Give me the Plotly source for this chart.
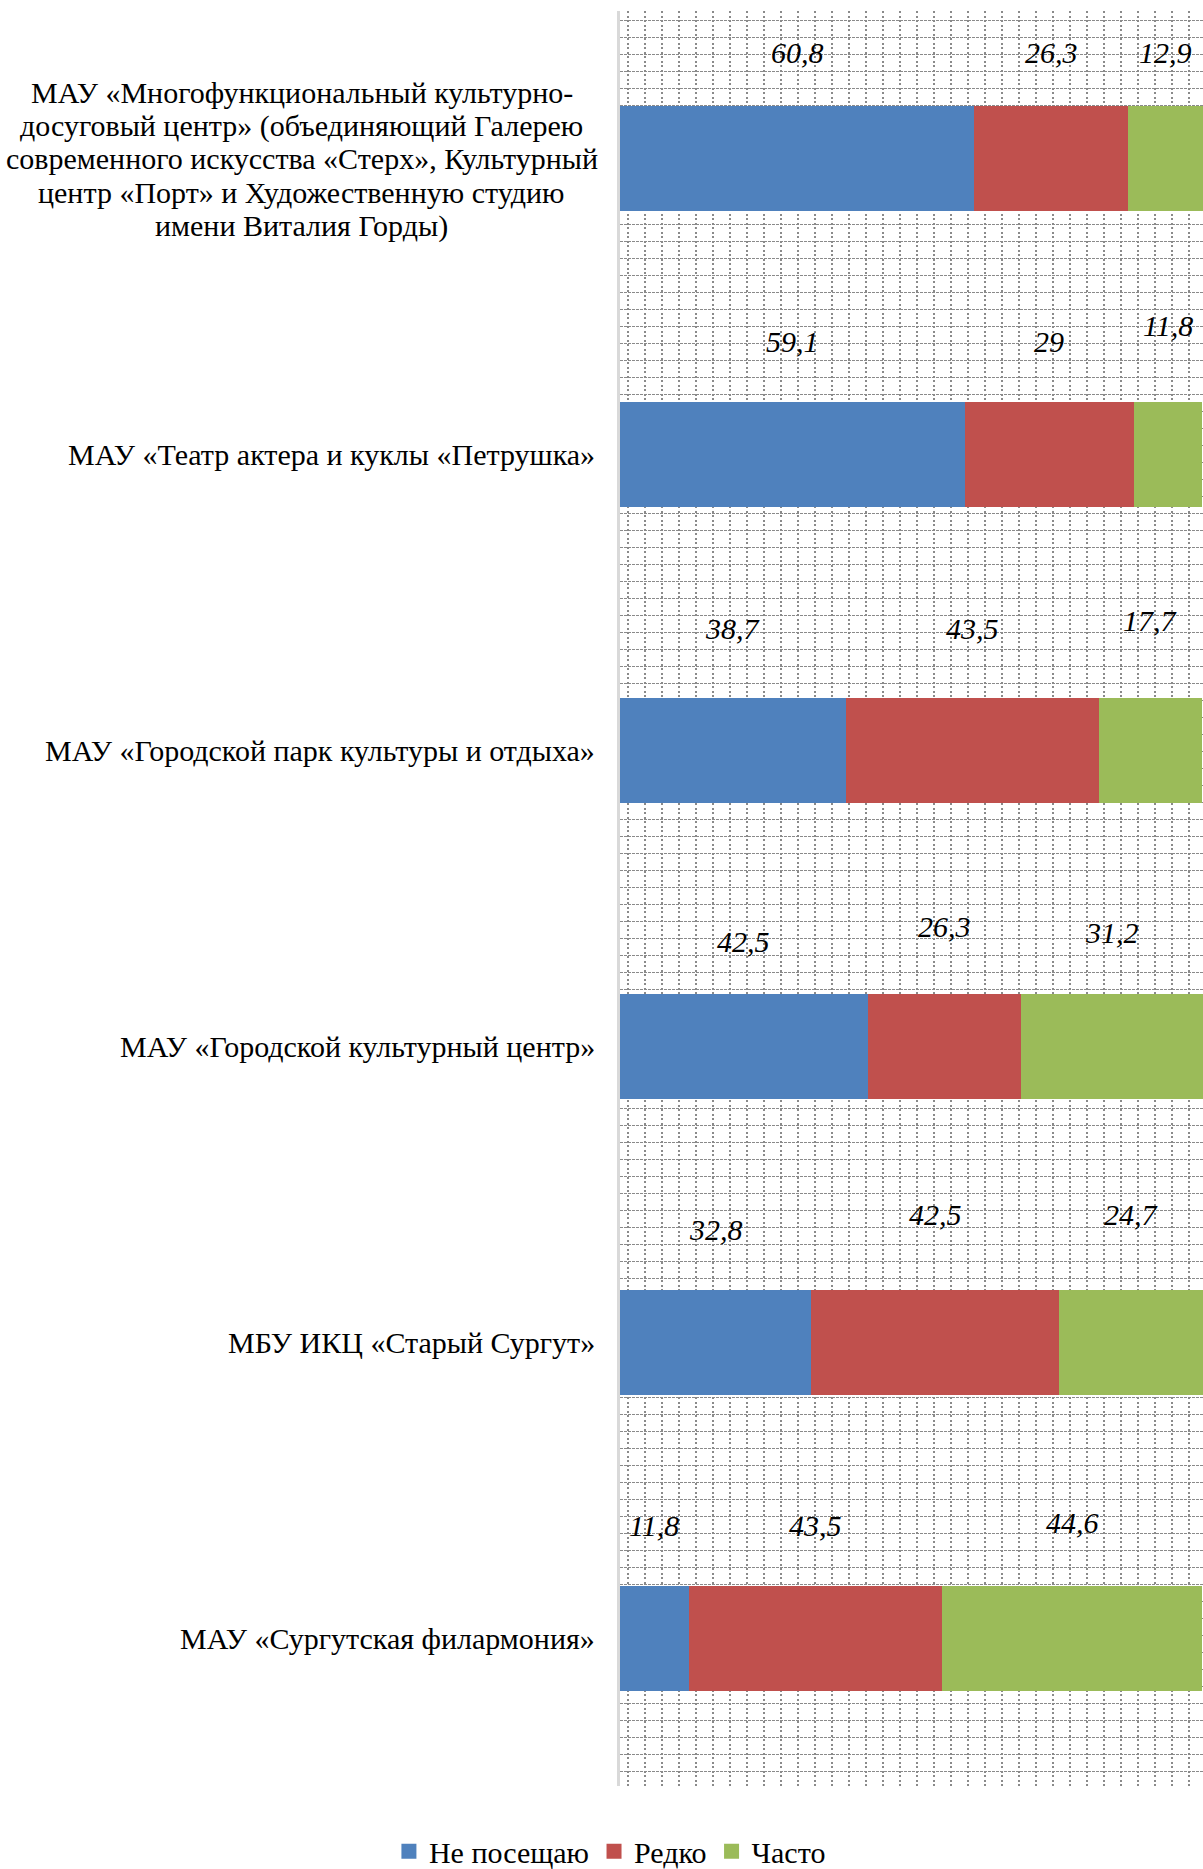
import plotly.graph_objects as go

categories = [
    "МАУ «Многофункциональный культурно-\nдосуговый центр» (объединяющий Галерею\nсовременного искусства «Стерх», Культурный\nцентр «Порт» и Художественную студию\nимени Виталия Горды)",
    "МАУ «Театр актера и куклы «Петрушка»",
    "МАУ «Городской парк культуры и отдыха»",
    "МАУ «Городской культурный центр»",
    "МБУ ИКЦ «Старый Сургут»",
    "МАУ «Сургутская филармония»",
]
series_names = ["Не посещаю", "Редко", "Часто"]
ne_poseshchayu = [60.8, 59.1, 38.7, 42.5, 32.8, 11.8]
redko = [26.3, 29, 43.5, 26.3, 42.5, 43.5]
chasto = [12.9, 11.8, 17.7, 31.2, 24.7, 44.6]

colors = ["#4F81BD", "#C0504D", "#9BBB59"]
# vertical pixel offsets of the value labels above each bar (style)
label_shift = [
    [106, 106, 106],
    [113, 113, 129],
    [122, 122, 130],
    [105, 120, 114],
    [113, 128, 128],
    [113, 113, 116],
]

FONT = "Liberation Serif"
FS = 30
LINE_H = 33.4
series = [ne_poseshchayu, redko, chasto]
ypos = list(range(len(categories)))

fig = go.Figure()
for name, vals, col in zip(series_names, series, colors):
    fig.add_trace(go.Bar(
        x=vals, y=ypos, orientation="h", name=name,
        marker=dict(color=col, line=dict(width=0)),
        width=0.355, hoverinfo="skip", showlegend=False,
    ))
# legend entries with larger square swatches
for name, col in zip(series_names, colors):
    fig.add_trace(go.Scatter(
        x=[None], y=[None], mode="markers", name=name,
        marker=dict(symbol="square", size=15, color=col),
        showlegend=True,
    ))

def fmt(v):
    return f"{v:g}".replace(".", ",")

annotations = []
for i in ypos:
    left = 0.0
    for s, vals in enumerate(series):
        v = vals[i]
        annotations.append(dict(
            x=left + v / 2, y=i, xref="x", yref="y",
            text=f"<i>{fmt(v)}</i>", showarrow=False,
            yshift=label_shift[i][s],
            font=dict(family=FONT, size=FS, color="#000000"),
        ))
        left += v
    lines = categories[i].split("\n")
    k = len(lines)
    for j, line in enumerate(lines):
        if k == 1:
            ax, anch = -0.039, "right"
        else:
            ax, anch = -0.5455, "center"
        annotations.append(dict(
            x=ax, y=i, xref="paper", yref="y", xanchor=anch, yanchor="middle",
            text=line, showarrow=False, yshift=((k - 1) / 2 - j) * LINE_H,
            font=dict(family=FONT, size=FS, color="#000000"),
        ))

fig.update_layout(
    width=1203, height=1869,
    margin=dict(l=620, r=0, t=11, b=83),
    paper_bgcolor="white", plot_bgcolor="white",
    barmode="stack",
    showlegend=True,
    legend=dict(
        orientation="h", xref="container", yref="container",
        x=0.507, y=0.0095, xanchor="center", yanchor="middle",
        font=dict(family=FONT, size=FS, color="#000000"),
        traceorder="normal", itemwidth=30,
    ),
    annotations=annotations,
    xaxis=dict(
        range=[0, 100], showticklabels=False, ticks="", zeroline=False,
        showgrid=False, showline=False,
        minor=dict(tickmode="linear", tick0=1.32, dtick=2.916, showgrid=True,
                   gridcolor="#8a8a8a", griddash="2px,2.5px", gridwidth=1.6, ticks=""),
    ),
    yaxis=dict(
        range=[len(categories) - 0.5, -0.5], showticklabels=False, ticks="",
        zeroline=False, showgrid=False,
        showline=True, linecolor="#d9d9d9", linewidth=3,
        minor=dict(tickmode="linear", tick0=-0.4672, dtick=0.05747, showgrid=True,
                   gridcolor="#8a8a8a", griddash="2.5px,1.5px", gridwidth=1, ticks=""),
    ),
)

fig.write_html(
    "out.html",
    config={"displayModeBar": False},
    post_script="document.body.style.margin='0';document.body.style.overflow='hidden';",
)
